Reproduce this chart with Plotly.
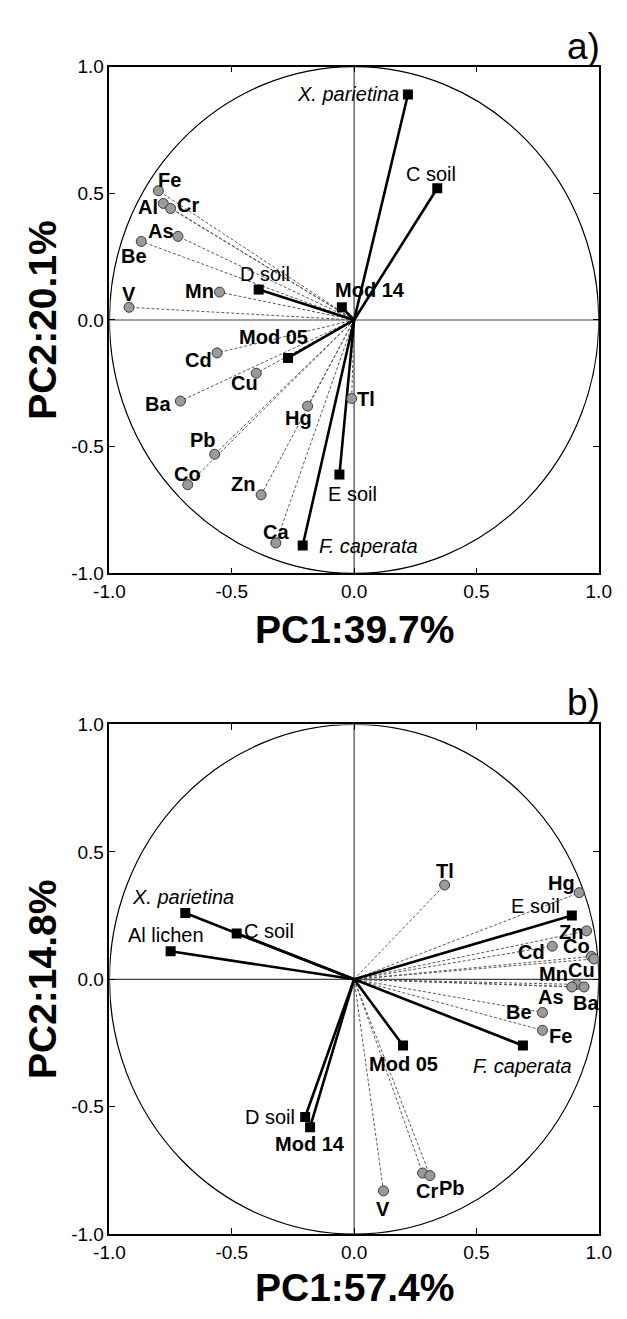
import plotly.graph_objects as go

# ---------------- data ----------------
tick_vals = [-1.0, -0.5, 0.0, 0.5, 1.0]
tick_text = ["-1.0", "-0.5", "0.0", "0.5", "1.0"]

# panel a) loadings
a_var_names = ["Fe", "Al", "Cr", "As", "Be", "V", "Mn", "Cd", "Cu", "Ba",
               "Hg", "Tl", "Pb", "Co", "Zn", "Ca"]
a_var_pc1 = [-0.80, -0.78, -0.75, -0.72, -0.87, -0.92, -0.55, -0.56, -0.40, -0.71,
             -0.19, -0.01, -0.57, -0.68, -0.38, -0.32]
a_var_pc2 = [0.51, 0.46, 0.44, 0.33, 0.31, 0.05, 0.11, -0.13, -0.21, -0.32,
             -0.34, -0.31, -0.53, -0.65, -0.69, -0.88]

a_smp_names = ["X. parietina", "C soil", "D soil", "Mod 14", "Mod 05", "E soil", "F. caperata"]
a_smp_pc1 = [0.22, 0.34, -0.39, -0.05, -0.27, -0.06, -0.21]
a_smp_pc2 = [0.89, 0.52, 0.12, 0.05, -0.15, -0.61, -0.89]

# panel b) loadings
b_var_names = ["Hg", "Tl", "Zn", "Cd", "Co", "Cu", "Mn", "As", "Ba", "Be",
               "Fe", "V", "Cr", "Pb"]
b_var_pc1 = [0.92, 0.37, 0.95, 0.81, 0.97, 0.98, 0.91, 0.89, 0.94, 0.77,
             0.77, 0.12, 0.28, 0.31]
b_var_pc2 = [0.34, 0.37, 0.19, 0.13, 0.09, 0.08, -0.02, -0.03, -0.03, -0.13,
             -0.20, -0.83, -0.76, -0.77]

b_smp_names = ["E soil", "F. caperata", "Mod 05", "D soil", "Mod 14", "C soil",
               "X. parietina", "Al lichen"]
b_smp_pc1 = [0.89, 0.69, 0.20, -0.20, -0.18, -0.48, -0.69, -0.75]
b_smp_pc2 = [0.25, -0.26, -0.26, -0.54, -0.58, 0.18, 0.26, 0.11]

a_xtitle, a_ytitle = "PC1:39.7%", "PC2:20.1%"
b_xtitle, b_ytitle = "PC1:57.4%", "PC2:14.8%"

# ---------------- styling ----------------
W, H = 627, 1319
FONT = "Liberation Sans, Arial, sans-serif"

# label placement: (dx, dy) in screen pixels (dy downward), text anchor
a_var_off = {"Fe": (11, -11), "Al": (-15, 4), "Cr": (17, -3), "As": (-17, -5),
             "Be": (-7, 15), "V": (0, -13), "Mn": (-20, -1), "Cd": (-19, 7),
             "Cu": (-12, 10), "Ba": (-22, 3), "Hg": (-9, 12), "Tl": (14, 0),
             "Pb": (-12, -14), "Co": (0, -11), "Zn": (-18, -11), "Ca": (0, -11)}
a_smp_off = {"X. parietina": (-7, 0, "right"), "C soil": (-6, -14, "center"),
             "D soil": (6, -16, "center"), "Mod 14": (28, -17, "center"),
             "Mod 05": (-15, -21, "center"), "E soil": (13, 19, "center"),
             "F. caperata": (14, 0, "left")}
b_var_off = {"Hg": (-18, -10), "Tl": (0, -14), "Zn": (-16, 1), "Cd": (-21, 6),
             "Co": (-15, -10), "Cu": (-12, 11), "Mn": (-23, -10), "As": (-21, 10),
             "Ba": (2, 16), "Be": (-23, 0), "Fe": (18, 6), "V": (0, 18),
             "Cr": (4, 18), "Pb": (22, 12)}
b_smp_off = {"E soil": (-36, -10, "center"), "F. caperata": (0, 20, "center"),
             "Mod 05": (0, 18, "center"), "D soil": (-35, 0, "center"),
             "Mod 14": (0, 17, "center"), "C soil": (32, -2, "center"),
             "X. parietina": (-2, -16, "center"), "Al lichen": (-5, -16, "center")}

ITALIC = {"X. parietina", "F. caperata"}
BOLD_SAMPLES = {"Mod 05", "Mod 14"}


def px_x(p):
    return p / W


def px_y(p):
    return 1 - p / H


# plot frames in pixels
X0, X1 = 98, 611
A_TOP, A_BOT = 57.5, 572.5
B_TOP, B_BOT = 726, 1244

fig = go.Figure()


def add_panel(xa, ya, vx, vy, vnames, voff, sx, sy, snames, soff):
    # dashed loading vectors for the variables
    lx, ly = [], []
    for a, b in zip(vx, vy):
        lx += [0, a, None]
        ly += [0, b, None]
    fig.add_trace(go.Scatter(x=lx, y=ly, mode="lines", xaxis=xa, yaxis=ya,
                             line=dict(color="#5a5a5a", width=1, dash="3px,2px"),
                             hoverinfo="skip", showlegend=False))
    # solid vectors for the sample types
    qx, qy = [], []
    for a, b in zip(sx, sy):
        qx += [0, a, None]
        qy += [0, b, None]
    fig.add_trace(go.Scatter(x=qx, y=qy, mode="lines", xaxis=xa, yaxis=ya,
                             line=dict(color="black", width=2.6),
                             hoverinfo="skip", showlegend=False))
    fig.add_trace(go.Scatter(x=vx, y=vy, mode="markers", xaxis=xa, yaxis=ya,
                             marker=dict(symbol="circle", size=10, color="#9a9a9a",
                                         line=dict(color="#3a3a3a", width=1)),
                             text=vnames, showlegend=False))
    fig.add_trace(go.Scatter(x=sx, y=sy, mode="markers", xaxis=xa, yaxis=ya,
                             marker=dict(symbol="square", size=10, color="black",
                                         line=dict(color="black", width=0)),
                             text=snames, showlegend=False))
    xr = "x" if xa == "x" else xa
    yr = "y" if ya == "y" else ya
    for n, a, b in zip(vnames, vx, vy):
        dx, dy = voff[n]
        fig.add_annotation(x=a, y=b, xref=xr, yref=yr, text="<b>%s</b>" % n,
                           showarrow=False, xshift=dx, yshift=-dy,
                           font=dict(family=FONT, size=20, color="black"))
    for n, a, b in zip(snames, sx, sy):
        dx, dy, anc = soff[n]
        if n in ITALIC:
            t = "<i>%s</i>" % n
        elif n in BOLD_SAMPLES:
            t = "<b>%s</b>" % n
        else:
            t = n
        fig.add_annotation(x=a, y=b, xref=xr, yref=yr, text=t, xanchor=anc,
                           showarrow=False, xshift=dx, yshift=-dy,
                           font=dict(family=FONT, size=20, color="black"))
    # unit circle and zero lines
    fig.add_shape(type="circle", xref=xr, yref=yr, x0=-1, y0=-1, x1=1, y1=1,
                  line=dict(color="black", width=1.2), layer="below")
    fig.add_shape(type="line", xref=xr, yref=yr, x0=-1, y0=0, x1=1, y1=0,
                  line=dict(color="#444", width=1.2), layer="below")
    fig.add_shape(type="line", xref=xr, yref=yr, x0=0, y0=-1, x1=0, y1=1,
                  line=dict(color="#444", width=1.2), layer="below")


add_panel("x", "y", a_var_pc1, a_var_pc2, a_var_names, a_var_off,
          a_smp_pc1, a_smp_pc2, a_smp_names, a_smp_off)
add_panel("x2", "y2", b_var_pc1, b_var_pc2, b_var_names, b_var_off,
          b_smp_pc1, b_smp_pc2, b_smp_names, b_smp_off)

axis_common = dict(range=[-1, 1], tickvals=tick_vals, ticktext=tick_text,
                   ticks="inside", ticklen=6, tickwidth=1, tickcolor="black",
                   showline=True, linecolor="black", linewidth=1.5, mirror="allticks",
                   showgrid=False, zeroline=False, fixedrange=True,
                   tickfont=dict(family=FONT, size=19, color="black"))

fig.update_layout(
    width=W, height=H, margin=dict(l=0, r=0, t=0, b=0),
    paper_bgcolor="white", plot_bgcolor="white", showlegend=False,
    xaxis=dict(domain=[px_x(X0), px_x(X1)], anchor="y", **axis_common),
    yaxis=dict(domain=[px_y(A_BOT), px_y(A_TOP)], anchor="x", **axis_common),
    xaxis2=dict(domain=[px_x(X0), px_x(X1)], anchor="y2", **axis_common),
    yaxis2=dict(domain=[px_y(B_BOT), px_y(B_TOP)], anchor="x2", **axis_common),
)

# axis titles and panel letters
title_font = dict(family=FONT, size=39, color="black")
fig.add_annotation(x=px_x((X0 + X1) / 2), y=px_y(630), xref="paper", yref="paper",
                   text="<b>%s</b>" % a_xtitle, showarrow=False, font=title_font,
                   xanchor="center", yanchor="middle")
fig.add_annotation(x=px_x(28), y=px_y((A_TOP + A_BOT) / 2), xref="paper", yref="paper",
                   text="<b>%s</b>" % a_ytitle, showarrow=False, font=title_font,
                   textangle=-90, xanchor="center", yanchor="middle")
fig.add_annotation(x=px_x((X0 + X1) / 2), y=px_y(1298), xref="paper", yref="paper",
                   text="<b>%s</b>" % b_xtitle, showarrow=False, font=title_font,
                   xanchor="center", yanchor="middle")
fig.add_annotation(x=px_x(28), y=px_y((B_TOP + B_BOT) / 2), xref="paper", yref="paper",
                   text="<b>%s</b>" % b_ytitle, showarrow=False, font=title_font,
                   textangle=-90, xanchor="center", yanchor="middle")
fig.add_annotation(x=px_x(614), y=px_y(37), xref="paper", yref="paper", text="a)",
                   showarrow=False, xanchor="right", yanchor="middle",
                   font=dict(family=FONT, size=37, color="black"))
fig.add_annotation(x=px_x(614), y=px_y(704), xref="paper", yref="paper", text="b)",
                   showarrow=False, xanchor="right", yanchor="middle",
                   font=dict(family=FONT, size=37, color="black"))

fig.write_html("out.html")
